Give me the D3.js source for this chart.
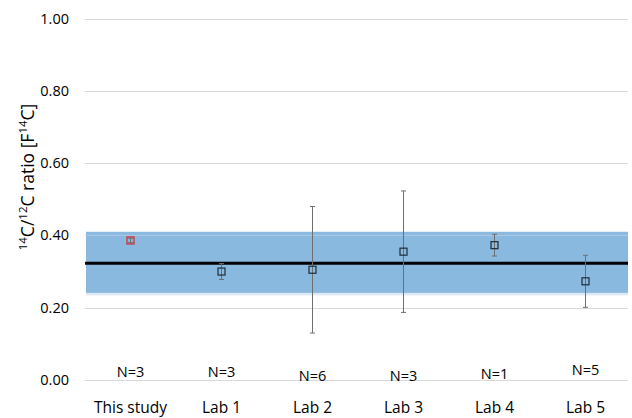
<!DOCTYPE html>
<html>
<head>
<meta charset="utf-8">
<script src="https://cdn.jsdelivr.net/npm/d3@7"></script>
<style>
  body { margin: 0; background: #fff; }
  svg text { font-family: "Open Sans", "Noto Sans", sans-serif; fill: #000; }
</style>
</head>
<body>
<div id="chart"></div>
<script>
// data
var labs = ["This study", "Lab 1", "Lab 2", "Lab 3", "Lab 4", "Lab 5"];
var ratios = [0.386, 0.300, 0.305, 0.355, 0.373, 0.273];
var errors = [0.006, 0.022, 0.175, 0.168, 0.030, 0.072];
var counts = ["N=3", "N=3", "N=6", "N=3", "N=1", "N=5"];
var countLevel = [0.003, 0.003, -0.006, -0.006, 0.0, 0.011];
var refValue = 0.323;
var refBand = [0.241, 0.410];
var yTicks = [0, 0.2, 0.4, 0.6, 0.8, 1.0];

var width = 632,
    height = 418;
var margin = {top: 18.5, right: 1, bottom: 38, left: 85};

var svg = d3.select("#chart")
  .append("svg")
    .attr("width", width)
    .attr("height", height);

var x = d3.scaleBand()
  .domain(labs)
  .range([margin.left, width - margin.right]);

var y = d3.scaleLinear()
  .domain([0, 1])
  .range([height - margin.bottom, margin.top]);

var xEnd = width - margin.right - 3;

// gridlines
svg.append("g")
  .selectAll("line")
  .data(yTicks)
  .enter()
  .append("line")
    .attr("x1", margin.left)
    .attr("x2", xEnd)
    .attr("y1", function(d) { return Math.round(y(d)) + 0.5; })
    .attr("y2", function(d) { return Math.round(y(d)) + 0.5; })
    .attr("stroke", "#d9d9d9")
    .attr("stroke-width", 1);

// y tick labels
svg.append("g")
  .selectAll("text")
  .data(yTicks)
  .enter()
  .append("text")
    .attr("x", 69)
    .attr("y", function(d) { return y(d); })
    .attr("dy", "0.35em")
    .attr("text-anchor", "end")
    .style("font-size", "14.5px")
    .text(function(d) { return d3.format(".2f")(d); });

// reference band, with a pale lower edge like the original
svg.append("rect")
  .attr("x", margin.left + 1)
  .attr("width", xEnd - margin.left - 1)
  .attr("y", y(refBand[0]))
  .attr("height", 2.5)
  .attr("fill", "#dde9f5");

svg.append("rect")
  .attr("x", margin.left + 1)
  .attr("width", xEnd - margin.left - 1)
  .attr("y", y(refBand[1]))
  .attr("height", y(refBand[0]) - y(refBand[1]))
  .attr("fill", "#8ab9e0");

svg.append("line")
  .attr("x1", margin.left + 1)
  .attr("x2", xEnd)
  .attr("y1", y(0.4))
  .attr("y2", y(0.4))
  .attr("stroke", "#a6c6e4")
  .attr("stroke-width", 1.2);

// reference value line
svg.append("line")
  .attr("x1", margin.left)
  .attr("x2", xEnd)
  .attr("y1", y(refValue))
  .attr("y2", y(refValue))
  .attr("stroke", "#000")
  .attr("stroke-width", 3);

var pts = labs.map(function(d, i) {
  return {lab: d, v: ratios[i], e: errors[i], n: counts[i], nl: countLevel[i]};
});
var cx = function(d) { return x(d.lab) + x.bandwidth() / 2; };

// error bars
var eb = svg.append("g")
  .selectAll("g")
  .data(pts)
  .enter()
  .append("g")
    .attr("stroke", "#6e6e6e")
    .attr("stroke-width", 1);
eb.append("line")
  .attr("x1", cx).attr("x2", cx)
  .attr("y1", function(d) { return y(d.v + d.e); })
  .attr("y2", function(d) { return y(d.v - d.e); });
eb.append("line")
  .attr("x1", function(d) { return cx(d) - 2.5; })
  .attr("x2", function(d) { return cx(d) + 2.5; })
  .attr("y1", function(d) { return y(d.v + d.e); })
  .attr("y2", function(d) { return y(d.v + d.e); });
eb.append("line")
  .attr("x1", function(d) { return cx(d) - 2.5; })
  .attr("x2", function(d) { return cx(d) + 2.5; })
  .attr("y1", function(d) { return y(d.v - d.e); })
  .attr("y2", function(d) { return y(d.v - d.e); });

// markers
svg.append("g")
  .selectAll("rect")
  .data(pts)
  .enter()
  .append("rect")
    .attr("x", function(d) { return cx(d) - 3.5; })
    .attr("y", function(d) { return y(d.v) - 3.5; })
    .attr("width", 7)
    .attr("height", 7)
    .attr("fill", "none")
    .attr("stroke", function(d, i) { return i == 0 ? "#e0202a" : "#1f2b38"; })
    .attr("stroke-width", 1.2);

// N= labels
svg.append("g")
  .selectAll("text")
  .data(pts)
  .enter()
  .append("text")
    .attr("x", cx)
    .attr("y", function(d) { return y(d.nl) - 1.5; })
    .attr("text-anchor", "middle")
    .style("font-size", "14.5px")
    .text(function(d) { return d.n; });

// category labels
svg.append("g")
  .selectAll("text")
  .data(labs)
  .enter()
  .append("text")
    .attr("x", function(d) { return x(d) + x.bandwidth() / 2; })
    .attr("y", 413)
    .attr("text-anchor", "middle")
    .style("font-size", "15.5px")
    .text(function(d) { return d; });

// y axis title
var title = svg.append("text")
  .attr("transform", "translate(34," + 177 + ") rotate(-90)")
  .attr("text-anchor", "middle")
  .style("font-size", "17.5px");
title.append("tspan").attr("baseline-shift", "super").style("font-size", "11.5px").text("14");
title.append("tspan").text("C/");
title.append("tspan").attr("baseline-shift", "super").style("font-size", "11.5px").text("12");
title.append("tspan").text("C ratio [F");
title.append("tspan").attr("baseline-shift", "super").style("font-size", "11.5px").text("14");
title.append("tspan").text("C]");
</script>
</body>
</html>
